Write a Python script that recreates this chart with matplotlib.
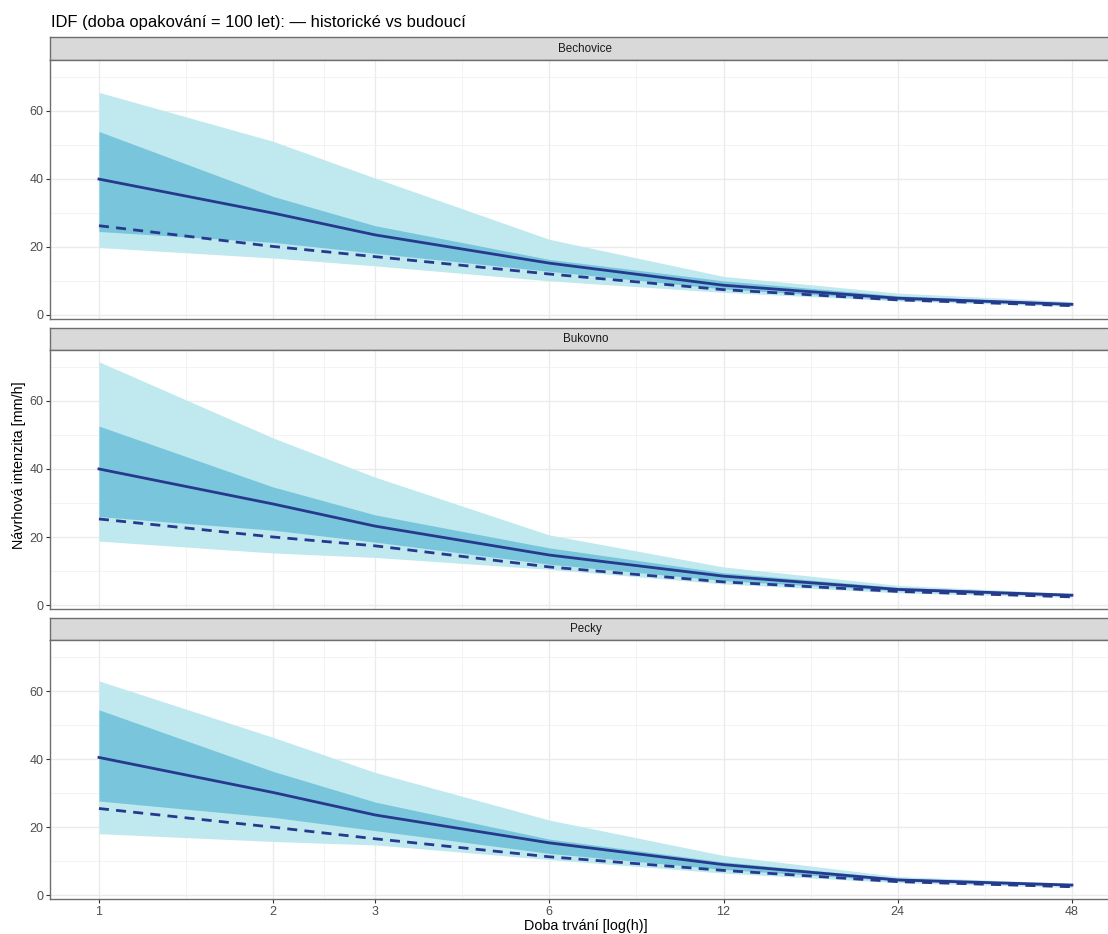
import numpy as np
import matplotlib
matplotlib.use("Agg")
import matplotlib.pyplot as plt
from matplotlib.ticker import FixedLocator, NullFormatter

plt.rcParams['font.family'] = ['Liberation Sans', 'DejaVu Sans']

# durations [h]
durations = [1, 2, 3, 6, 12, 24, 48]
stations = ["Bechovice", "Bukovno", "Pecky"]

# design intensity [mm/h], return period 100 years
outer_hi = {
    "Bechovice": [65.4, 51.0, 40.2, 22.2, 11.3, 6.4, 3.9],
    "Bukovno":   [71.5, 49.1, 37.6, 20.6, 11.2, 5.8, 3.4],
    "Pecky":     [63.0, 46.4, 36.1, 22.1, 11.7, 5.5, 3.5],
}
inner_hi = {
    "Bechovice": [53.9, 34.8, 26.2, 16.3, 10.0, 5.6, 3.4],
    "Bukovno":   [52.6, 34.7, 26.5, 16.8, 9.5, 5.2, 3.2],
    "Pecky":     [54.5, 36.4, 27.4, 16.5, 9.8, 5.0, 3.2],
}
future = {
    "Bechovice": [39.9, 29.9, 23.5, 15.2, 8.7, 4.9, 3.1],
    "Bukovno":   [40.0, 29.7, 23.2, 14.7, 8.5, 4.6, 2.9],
    "Pecky":     [40.5, 30.2, 23.6, 15.4, 9.0, 4.5, 3.0],
}
inner_lo = {
    "Bechovice": [24.5, 21.3, 18.1, 12.8, 7.6, 4.4, 2.8],
    "Bukovno":   [26.0, 22.0, 18.5, 12.0, 7.2, 4.2, 2.6],
    "Pecky":     [27.7, 22.9, 19.0, 12.3, 7.6, 4.2, 2.7],
}
historic = {
    "Bechovice": [26.2, 20.1, 17.1, 12.0, 7.4, 4.4, 2.7],
    "Bukovno":   [25.3, 20.0, 17.4, 11.2, 6.8, 4.0, 2.4],
    "Pecky":     [25.5, 20.0, 16.6, 11.3, 7.3, 4.0, 2.5],
}
outer_lo = {
    "Bechovice": [19.8, 16.7, 14.4, 10.0, 6.6, 4.1, 2.5],
    "Bukovno":   [18.8, 15.3, 14.0, 10.5, 6.2, 3.6, 2.3],
    "Pecky":     [18.1, 15.8, 14.8, 10.5, 6.5, 3.7, 2.3],
}

W, H = 1108, 934
fig = plt.figure(figsize=(W / 100, H / 100), dpi=100)

# layout in pixels
left, right = 50.3, 1120.6
strip_h, panel_h, gap = 22.5, 259.0, 8.7
top0 = 37.3

# shared scales (ggplot-like 5 % expansion)
lx = np.log2(durations)
px = 0.05 * (lx.max() - lx.min())
xlim = (2 ** (lx.min() - px), 2 ** (lx.max() + px))
all_y = np.concatenate([np.r_[outer_lo[s], outer_hi[s]] for s in stations])
py = 0.05 * (all_y.max() - all_y.min())
ylim = (all_y.min() - py, all_y.max() + py)

minor_x = np.sqrt(np.array(durations[:-1]) * np.array(durations[1:]))

c_light = "#BFE9EE"
c_dark = "#79C6DC"
c_line = "#26398C"
border = "#6E6E6E"

for i, st in enumerate(stations):
    s_top = top0 + i * (strip_h + panel_h + gap)
    p_top = s_top + strip_h
    # strip
    sax = fig.add_axes([left / W, 1 - p_top / H, (right - left) / W, strip_h / H])
    sax.set_facecolor("#D9D9D9")
    sax.set_xticks([]); sax.set_yticks([])
    for sp in sax.spines.values():
        sp.set_color(border); sp.set_linewidth(1.0)
    sax.text(0.5, 0.5, st, transform=sax.transAxes, ha="center", va="center",
             fontsize=8.4, color="#1A1A1A")

    ax = fig.add_axes([left / W, 1 - (p_top + panel_h) / H, (right - left) / W, panel_h / H])
    ax.set_xscale("log", base=2)
    ax.set_xlim(xlim); ax.set_ylim(ylim)

    ax.fill_between(durations, outer_lo[st], outer_hi[st], color=c_light, lw=0, zorder=2)
    ax.fill_between(durations, inner_lo[st], inner_hi[st], color=c_dark, lw=0, zorder=3)
    ax.plot(durations, future[st], color=c_line, lw=2.0, zorder=4)
    ax.plot(durations, historic[st], color=c_line, lw=2.0, ls=(0, (3.6, 2.6)), zorder=4)

    ax.xaxis.set_major_locator(FixedLocator(durations))
    ax.xaxis.set_minor_locator(FixedLocator(minor_x))
    ax.xaxis.set_minor_formatter(NullFormatter())
    ax.set_yticks([0, 20, 40, 60])
    ax.yaxis.set_minor_locator(FixedLocator([10, 30, 50, 70]))
    ax.grid(which="major", color="#EBEBEB", lw=1.0, zorder=0)
    ax.grid(which="minor", color="#F0F0F0", lw=0.55, zorder=0)
    ax.set_axisbelow(True)
    for sp in ax.spines.values():
        sp.set_color(border); sp.set_linewidth(1.0)

    ax.tick_params(which="minor", length=0)
    ax.tick_params(axis="y", which="major", length=3, width=0.8, color="#333333",
                   labelsize=9, labelcolor="#4D4D4D", pad=2)
    if i == len(stations) - 1:
        ax.set_xticklabels([str(d) for d in durations])
        ax.tick_params(axis="x", which="major", length=3, width=0.8, color="#333333",
                       labelsize=9, labelcolor="#4D4D4D", pad=2)
    else:
        ax.tick_params(axis="x", which="major", length=0, labelbottom=False)

fig.text(51 / W, 1 - 27 / H, "IDF (doba opakování = 100 let): — historické vs budoucí",
         ha="left", va="baseline", fontsize=11.9, color="black")
fig.text(585.5 / W, 1 - 926 / H, "Doba trvání [log(h)]", ha="center", va="center",
         fontsize=10.4, color="black")
fig.text(19 / W, 1 - 465 / H, "Návrhová intenzita [mm/h]", ha="center", va="center",
         rotation=90, fontsize=10.4, color="black")

fig.savefig("out.png", dpi=100, facecolor="white")
